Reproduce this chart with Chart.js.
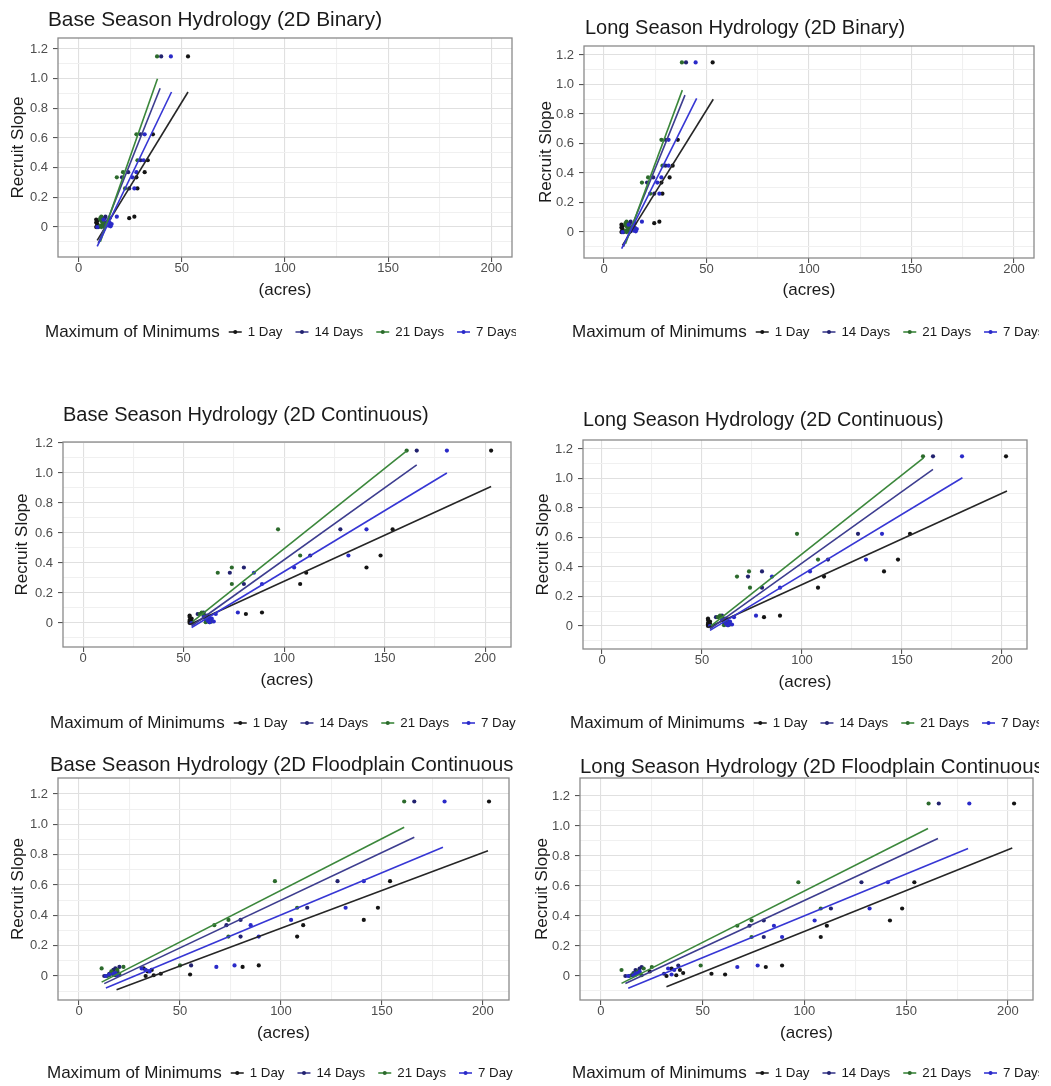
<!DOCTYPE html>
<html>
<head>
<meta charset="utf-8">
<script src="https://cdn.jsdelivr.net/npm/chart.js@4.4.1/dist/chart.umd.min.js"></script>
<style>
html, body { margin: 0; padding: 0; background: #ffffff; }
body { width: 1051px; height: 1086px; position: relative; overflow: hidden; }
canvas { position: absolute; }
</style>
</head>
<body>
<canvas id="c1"></canvas>
<canvas id="c2"></canvas>
<canvas id="c3"></canvas>
<canvas id="c4"></canvas>
<canvas id="c5"></canvas>
<canvas id="c6"></canvas>
<script>
// ---------------- DATA ----------------
const seriesLabels = ['1 Day', '14 Days', '21 Days', '7 Days'];
const legendTitle = 'Maximum of Minimums';
const xAxisTitle = '(acres)';
const yAxisTitle = 'Recruit Slope';

// Recruit slope (y) for each observation; shared by every series
const recruitSlope = [1.15, 0.625, 0.45, 0.37, 0.335, 0.26, 0.07, 0.06, 0.05, 0.04, 0.03, 0.02, 0.015, 0.01, 0.005, 0.0];

// Acres (x) per series, per panel
const baseBinary1Day   = [53, 36, 33.5, 32, 28, 28.5, 27, 24.5, 8.5, 9, 8.5, 9, 14.5, 9, 10, 8.5];
const baseBinary14Days = [40, 30, 30, 24, 21, 24.5, 13, 12.5, 11, 12, 13, 14, 12.5, 11.5, 13, 9.5];
const baseBinary21Days = [38, 28, 28.5, 21.5, 18.5, 22.5, 11, 10.5, 10.5, 11, 12, 13, 11.5, 10.5, 12, 11];
const baseBinary7Days  = [44.7, 32, 31.5, 28, 26, 27, 18.5, 15, 12, 14, 15, 16, 13.5, 14.5, 15.5, 9];

const longBinary1Day   = [53, 36, 33.5, 32, 28, 28.5, 27, 24.5, 8.5, 9, 8.5, 9, 14, 9, 10, 8.5];
const longBinary14Days = [40, 30, 30, 24, 21, 24.5, 13, 12.5, 11, 12, 13, 14, 12.5, 11.5, 13, 9.5];
const longBinary21Days = [38, 28, 28.5, 21.5, 18.5, 22.5, 11, 10.5, 10.5, 11, 12, 13, 11.5, 10.5, 12, 11];
const longBinary7Days  = [44.7, 31.5, 31.5, 28, 26, 27, 18.5, 15, 12, 14, 15, 16, 13.5, 14.5, 15.5, 9];

const baseCont1Day   = [203, 154, 148, 141, 111, 108, 89, 81, 53, 53, 54, 53, 54, 53, 54, 53];
const baseCont14Days = [166, 128, 113, 80, 73, 80, 60, 57, 61, 62, 63, 61, 64, 62, 63, 54];
const baseCont21Days = [161, 97, 108, 74, 67, 74, 59, 58, 60, 62, 61, 63, 62, 64, 61, 54.5];
const baseCont7Days  = [181, 141, 132, 105, 85, 89, 77, 66, 62, 60, 64, 63, 62, 65, 63, 54];

const longCont1Day   = [202, 154, 148, 141, 111, 108, 89, 81, 53, 53, 54, 53, 54, 53, 54, 53];
const longCont14Days = [165.5, 128, 113, 80, 73, 80, 60, 57, 61, 62, 63, 61, 64, 62, 63, 54];
const longCont21Days = [160.5, 97.5, 108, 73.5, 67.5, 74, 59, 58, 60, 62, 61, 63, 62, 64, 61, 54.5];
const longCont7Days  = [180, 140, 132, 104, 85, 89, 77, 66, 62, 60, 64, 63, 62, 65, 63, 54];

const baseFlood1Day   = [203, 154, 148, 141, 111, 108, 89, 81, 32, 36, 34, 19, 40.5, 55, 37, 33];
const baseFlood14Days = [166, 128, 113, 80, 73, 80, 55.5, 20, 18, 17, 19, 16, 15, 17, 18, 12.5];
const baseFlood21Days = [161, 97, 108, 74, 67, 74, 50, 22, 11.2, 19, 16, 18, 17, 20, 15, 14];
const baseFlood7Days  = [181, 141, 132, 105, 85, 89, 77, 68, 31, 33, 35, 18, 17, 15, 19, 13.3];

const longFlood1Day   = [203, 154, 148, 142, 111, 108, 89, 81, 34.7, 38.8, 24, 40.4, 54.3, 61, 37, 32.2];
const longFlood14Days = [166, 128, 113, 80, 73, 80, 38, 20, 19, 17, 18, 16, 31, 17, 15, 12];
const longFlood21Days = [161, 97, 108, 74, 67, 74, 49, 25, 21, 10.1, 18, 19, 16, 17, 20, 14];
const longFlood7Days  = [181, 141, 132, 105, 85, 89, 77, 67, 33, 36, 19, 18, 17, 34.7, 16, 13.4];

// Fitted lines [xStart, yStart, xEnd, yEnd] in series order (1, 14, 21, 7 days)
const baseBinaryFits = [[9, -0.09, 53, 0.91], [9.5, -0.11, 39.5, 0.935], [10.5, -0.10, 38.2, 1.0], [9, -0.13, 45, 0.91]];
const longBinaryFits = [[9, -0.09, 53.3, 0.90], [9.5, -0.10, 39.5, 0.928], [10.5, -0.08, 38.2, 0.962], [8.6, -0.113, 45.2, 0.906]];
const baseContFits   = [[53, -0.01, 203, 0.91], [54, -0.02, 166, 1.055], [54.5, 0.01, 161, 1.148], [54, -0.03, 181, 1.0]];
const longContFits   = [[53, -0.01, 202.5, 0.915], [54, -0.02, 165.5, 1.062], [54.5, 0.0, 160.8, 1.14], [54, -0.03, 180.2, 1.005]];
const baseFloodFits  = [[18.6, -0.09, 202.5, 0.825], [12.5, -0.05, 166, 0.915], [11.2, -0.04, 161, 0.98], [13.3, -0.079, 180.2, 0.849]];
const longFloodFits  = [[32.2, -0.071, 202.1, 0.854], [12, -0.05, 165.6, 0.916], [10.1, -0.049, 160.7, 0.983], [13.4, -0.082, 180.4, 0.85]];

// Ticks
const xTickValues = [0, 25, 50, 75, 100, 125, 150, 175, 200];
const xMajorTicks = [0, 50, 100, 150, 200];
const xTickLabels = ['0', '50', '100', '150', '200'];
const yTickValues = [-0.1, 0, 0.1, 0.2, 0.3, 0.4, 0.5, 0.6, 0.7, 0.8, 0.9, 1.0, 1.1, 1.2];
const yMajorTicks = [0, 0.2, 0.4, 0.6, 0.8, 1.0, 1.2];
const yTickLabels = ['0', '0.2', '0.4', '0.6', '0.8', '1.0', '1.2'];

// ---------------- STYLE / LAYOUT ----------------
const FONT = '"Liberation Sans", Arial, Helvetica, sans-serif';
const lineColors  = ['#262626', '#3d3d8f', '#3b873b', '#3636d4'];
const pointColors = ['#141414', '#22226f', '#2c6a2c', '#2a2ac8'];

const panels = [
  { id: 'c1', title: 'Base Season Hydrology (2D Binary)', titleSize: 20.8, canvas: [0, 0, 516, 345], plot: [58, 38, 513, 257],
    xr: [-10, 210], yr: [-0.202, 1.274], titlePos: [48, 20], legendPos: [45, 332], acresY: 290, slopeX: 18,
    series: [baseBinary1Day, baseBinary14Days, baseBinary21Days, baseBinary7Days], fits: baseBinaryFits },
  { id: 'c2', title: 'Long Season Hydrology (2D Binary)', titleSize: 20, canvas: [526, 0, 513, 345], plot: [584, 46, 1034, 258],
    xr: [-9.76, 209.76], yr: [-0.176, 1.261], titlePos: [585, 28], legendPos: [572, 332], acresY: 290, slopeX: 546,
    series: [longBinary1Day, longBinary14Days, longBinary21Days, longBinary7Days], fits: longBinaryFits },
  { id: 'c3', title: 'Base Season Hydrology (2D Continuous)', titleSize: 20, canvas: [0, 385, 516, 350], plot: [63, 442, 511, 647],
    xr: [-10, 212.9], yr: [-0.16, 1.207], titlePos: [63, 415], legendPos: [50, 723], acresY: 680, slopeX: 22,
    series: [baseCont1Day, baseCont14Days, baseCont21Days, baseCont7Days], fits: baseContFits },
  { id: 'c4', title: 'Long Season Hydrology (2D Continuous)', titleSize: 19.8, canvas: [526, 385, 513, 350], plot: [583, 440, 1027, 649],
    xr: [-9.5, 212.5], yr: [-0.156, 1.261], titlePos: [583, 421], legendPos: [570, 723], acresY: 682, slopeX: 543,
    series: [longCont1Day, longCont14Days, longCont21Days, longCont7Days], fits: longContFits },
  { id: 'c5', title: 'Base Season Hydrology (2D Floodplain Continuous)', titleSize: 20.3, canvas: [0, 745, 513, 341], plot: [58, 778, 509, 1000],
    xr: [-10.4, 212.9], yr: [-0.158, 1.305], titlePos: [50, 765], legendPos: [47, 1073], acresY: 1033, slopeX: 18,
    series: [baseFlood1Day, baseFlood14Days, baseFlood21Days, baseFlood7Days], fits: baseFloodFits },
  { id: 'c6', title: 'Long Season Hydrology (2D Floodplain Continuous)', titleSize: 20.35, canvas: [526, 745, 513, 341], plot: [580, 778, 1033, 1000],
    xr: [-10.3, 212.3], yr: [-0.16, 1.32], titlePos: [580, 767], legendPos: [572, 1073], acresY: 1033, slopeX: 542,
    series: [longFlood1Day, longFlood14Days, longFlood21Days, longFlood7Days], fits: longFloodFits }
];

function idxOf(list, v) { return list.findIndex(m => Math.abs(m - v) < 1e-6); }

const decorPlugin = {
  id: 'panelDecor',
  afterDatasetsDraw(chart, args, opts) {
    const a = chart.chartArea;
    const ctx = chart.ctx;
    ctx.save();
    ctx.strokeStyle = '#8a8a8a';
    ctx.lineWidth = 1.3;
    ctx.strokeRect(a.left, a.top, a.right - a.left, a.bottom - a.top);
    ctx.restore();
  },
  afterDraw(chart, args, opts) {
    const ctx = chart.ctx;
    ctx.save();
    ctx.textBaseline = 'middle';
    ctx.textAlign = 'left';
    ctx.fillStyle = '#1a1a1a';
    ctx.font = opts.titleSize + 'px ' + FONT;
    ctx.fillText(opts.title, opts.titleX, opts.titleY);
    ctx.font = '17px ' + FONT;
    ctx.fillText(legendTitle, opts.legendX, opts.legendY);
    let x = opts.legendX + ctx.measureText(legendTitle).width + 9;
    const y = opts.legendY;
    ctx.font = '13.3px ' + FONT;
    seriesLabels.forEach((lab, i) => {
      ctx.strokeStyle = lineColors[i];
      ctx.lineWidth = 1.6;
      ctx.beginPath(); ctx.moveTo(x, y); ctx.lineTo(x + 13, y); ctx.stroke();
      ctx.fillStyle = pointColors[i];
      ctx.beginPath(); ctx.arc(x + 6.5, y, 2.0, 0, Math.PI * 2); ctx.fill();
      ctx.fillStyle = '#1a1a1a';
      ctx.fillText(lab, x + 19, y);
      x += 19 + ctx.measureText(lab).width + 13;
    });
    ctx.restore();
  }
};

function buildPanel(p) {
  const [cx, cy, cw, ch] = p.canvas;
  const [L, T, R, B] = p.plot;
  const el = document.getElementById(p.id);
  el.style.left = cx + 'px';
  el.style.top = cy + 'px';
  el.width = cw; el.height = ch;
  el.style.width = cw + 'px'; el.style.height = ch + 'px';

  const axisTitleLH = 17 * 1.2;
  const xAxisH = (p.acresY - B) + axisTitleLH / 2;
  const yAxisW = L - cx;

  const datasets = [];
  seriesLabels.forEach((lab, i) => {
    datasets.push({
      label: lab,
      data: p.series[i].map((xv, k) => ({ x: xv, y: recruitSlope[k] })),
      backgroundColor: pointColors[i],
      borderColor: pointColors[i],
      borderWidth: 0,
      pointRadius: 2.1,
      showLine: false,
      order: 10 + (3 - i)
    });
  });
  seriesLabels.forEach((lab, i) => {
    const f = p.fits[i];
    datasets.push({
      label: lab + ' fit',
      data: [{ x: f[0], y: f[1] }, { x: f[2], y: f[3] }],
      borderColor: lineColors[i],
      backgroundColor: lineColors[i],
      borderWidth: 1.6,
      pointRadius: 0,
      showLine: true,
      fill: false,
      order: 3 - i
    });
  });

  const gridColorX = c => (c.tick && idxOf(xMajorTicks, c.tick.value) >= 0) ? '#e0e0e0' : '#f0f0f0';
  const gridColorY = c => (c.tick && idxOf(yMajorTicks, c.tick.value) >= 0) ? '#e0e0e0' : '#f0f0f0';
  const tickColX = c => (c.tick && idxOf(xMajorTicks, c.tick.value) >= 0) ? '#555555' : 'rgba(0,0,0,0)';
  const tickColY = c => (c.tick && idxOf(yMajorTicks, c.tick.value) >= 0) ? '#555555' : 'rgba(0,0,0,0)';

  new Chart(el, {
    type: 'scatter',
    data: { datasets },
    options: {
      responsive: false,
      animation: false,
      devicePixelRatio: 1,
      layout: { padding: { left: 0, top: T - cy, right: cx + cw - R, bottom: (cy + ch) - B - xAxisH } },
      plugins: {
        legend: { display: false },
        tooltip: { enabled: false },
        title: { display: false },
        panelDecor: {
          title: p.title, titleSize: p.titleSize,
          titleX: p.titlePos[0] - cx, titleY: p.titlePos[1] - cy,
          legendX: p.legendPos[0] - cx, legendY: p.legendPos[1] - cy
        }
      },
      scales: {
        x: {
          type: 'linear', position: 'bottom', min: p.xr[0], max: p.xr[1],
          afterBuildTicks: s => { s.ticks = xTickValues.map(v => ({ value: v })); },
          afterFit: s => { s.height = xAxisH; },
          ticks: {
            autoSkip: false, maxRotation: 0, padding: 0,
            callback: v => { const k = idxOf(xMajorTicks, v); return k >= 0 ? xTickLabels[k] : ''; },
            font: { family: FONT, size: 13, lineHeight: 1 }, color: '#4d4d4d'
          },
          grid: { color: gridColorX, lineWidth: 1.1, tickColor: tickColX, tickLength: 5, tickWidth: 1.1, drawTicks: true },
          border: { display: false },
          title: { display: true, text: xAxisTitle, font: { family: FONT, size: 17, lineHeight: 1.2 }, color: '#1a1a1a', padding: 0 }
        },
        y: {
          type: 'linear', position: 'left', min: p.yr[0], max: p.yr[1],
          afterBuildTicks: s => { s.ticks = yTickValues.map(v => ({ value: v })); },
          afterFit: s => { s.width = yAxisW; },
          ticks: {
            autoSkip: false, padding: 5,
            callback: v => { const k = idxOf(yMajorTicks, v); return k >= 0 ? yTickLabels[k] : ''; },
            font: { family: FONT, size: 13, lineHeight: 1 }, color: '#4d4d4d'
          },
          grid: { color: gridColorY, lineWidth: 1.1, tickColor: tickColY, tickLength: 5, tickWidth: 1.1, drawTicks: true },
          border: { display: false },
          title: { display: true, text: yAxisTitle, font: { family: FONT, size: 17, lineHeight: 1.2 }, color: '#1a1a1a',
                   padding: { top: p.slopeX - cx - axisTitleLH / 2, bottom: 0 } }
        }
      }
    },
    plugins: [decorPlugin]
  });
}

panels.forEach(buildPanel);
</script>
</body>
</html>
